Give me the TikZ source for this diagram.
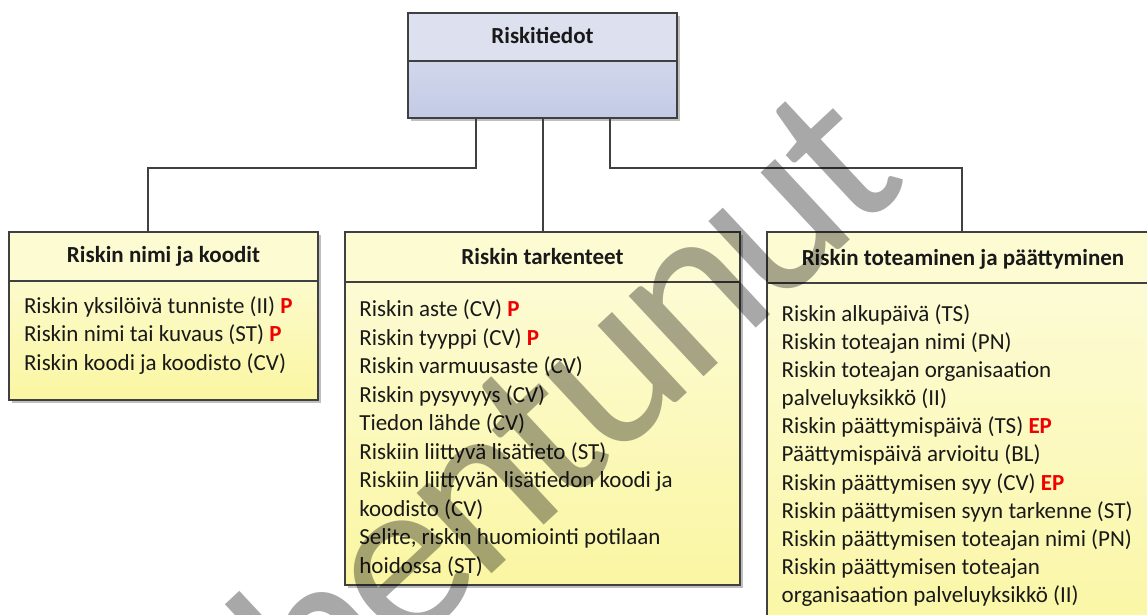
\documentclass[tikz,border=0pt]{standalone}
\usepackage{fontspec}
\setmainfont{Carlito}
\newfontfamily\wmfont[LetterSpace=-4]{Carlito}
\usetikzlibrary{shadows}
\definecolor{linec}{HTML}{404040}
\definecolor{bluetop}{HTML}{DDE1EF}
\definecolor{bluebot}{HTML}{C3CBE5}
\definecolor{yhead}{HTML}{FCFBD2}
\definecolor{ytop}{HTML}{FDFCDC}
\definecolor{ybot}{HTML}{FAF6A2}
\definecolor{req}{HTML}{F00000}
\newcommand{\mk}[1]{\textcolor{req}{\bfseries #1}}
\begin{document}
\begin{tikzpicture}[x=1pt,y=-1pt,
  conn/.style={draw=linec,line width=2pt},
  boxbase/.style={rectangle,draw=linec,line width=2pt,inner sep=0pt,outer sep=0pt,anchor=north west},
  shadowed/.style={drop shadow={shadow xshift=3pt,shadow yshift=-3pt,opacity=0.25,fill=black}},
  bluebox/.style={boxbase,shadowed,top color=bluetop,bottom color=bluebot},
  bluehead/.style={boxbase,fill=bluetop},
  yellowbox/.style={boxbase,shadowed,top color=ytop,bottom color=ybot},
  yellowhead/.style={boxbase,fill=yhead},
  headtxt/.style={anchor=base,inner sep=0pt,outer sep=0pt,font=\fontsize{23}{28}\selectfont\bfseries,text=black!90},
  bodytxt/.style={anchor=base west,inner sep=0pt,outer sep=0pt,font=\fontsize{23}{28.5}\selectfont,text=black!90},
  wmark/.style={anchor=base east,inner sep=0pt,outer sep=0pt,rotate=43,text=black,text opacity=0.34,font=\wmfont\fontsize{230}{230}\selectfont}
]
\useasboundingbox (0,0) rectangle (1147,614);
\clip (0,0) rectangle (1147,614);
\fill[white] (0,0) rectangle (1147,614);

% top class
\node[bluebox,minimum width=269pt,minimum height=105pt] (topbox) at (408,13) {};
\node[bluehead,minimum width=269pt,minimum height=48pt] (tophead) at (408,13) {};
\node[headtxt] (toptitle) at (542.5,43.3) {Riskitiedot};

% left class
\node[yellowbox,minimum width=309pt,minimum height=168pt] (leftbox) at (9,232) {};
\node[yellowhead,minimum width=309pt,minimum height=49pt] (lefthead) at (9,232) {};
\node[headtxt] (lefttitle) at (163.5,262.7) {Riskin nimi ja koodit};
\node[bodytxt] (lefttext) at (24,313.3) {\parbox[t]{400pt}{\raggedright
Riskin yksilöivä tunniste (II) \mk{P}\\
Riskin nimi tai kuvaus (ST) \mk{P}\\
Riskin koodi ja koodisto (CV)}};

% middle class
\node[yellowbox,minimum width=395pt,minimum height=353pt] (midbox) at (345,232) {};
\node[yellowhead,minimum width=395pt,minimum height=50pt] (midhead) at (345,232) {};
\node[headtxt] (midtitle) at (542.5,264.3) {Riskin tarkenteet};
\node[bodytxt] (midtext) at (359.3,316.7) {\parbox[t]{400pt}{\raggedright
Riskin aste (CV) \mk{P}\\
Riskin tyyppi (CV) \mk{P}\\
Riskin varmuusaste (CV)\\
Riskin pysyvyys (CV)\\
Tiedon lähde (CV)\\
Riskiin liittyvä lisätieto (ST)\\
Riskiin liittyvän lisätiedon koodi ja\\
koodisto (CV)\\
Selite, riskin huomiointi potilaan\\
hoidossa (ST)}};

% right class
\node[yellowbox,minimum width=390pt,minimum height=420pt] (rightbox) at (767,232) {};
\node[yellowhead,minimum width=390pt,minimum height=51pt] (righthead) at (767,232) {};
\node[headtxt] (righttitle) at (963,265) {Riskin toteaminen ja päättyminen};
\node[bodytxt,font=\fontsize{23}{28.17}\selectfont] (righttext) at (781.7,321) {\parbox[t]{400pt}{\raggedright
Riskin alkupäivä (TS)\\
Riskin toteajan nimi (PN)\\
Riskin toteajan organisaation\\
palveluyksikkö (II)\\
Riskin päättymispäivä (TS) \mk{EP}\\
Päättymispäivä arvioitu (BL)\\
Riskin päättymisen syy (CV) \mk{EP}\\
Riskin päättymisen syyn tarkenne (ST)\\
Riskin päättymisen toteajan nimi (PN)\\
Riskin päättymisen toteajan\\
organisaation palveluyksikkö (II)}};

% connectors
\draw[conn] ([xshift=-67pt]topbox.south) -- ++(0,50) -| ([xshift=-15.5pt]lefthead.north);
\draw[conn] (topbox.south) -- (midhead.north);
\draw[conn] ([xshift=67pt]topbox.south) -- ++(0,50) -| (righthead.north);

% watermark
\node[wmark] (wm) at (912,183) {Vanhentunut};
\end{tikzpicture}
\end{document}
